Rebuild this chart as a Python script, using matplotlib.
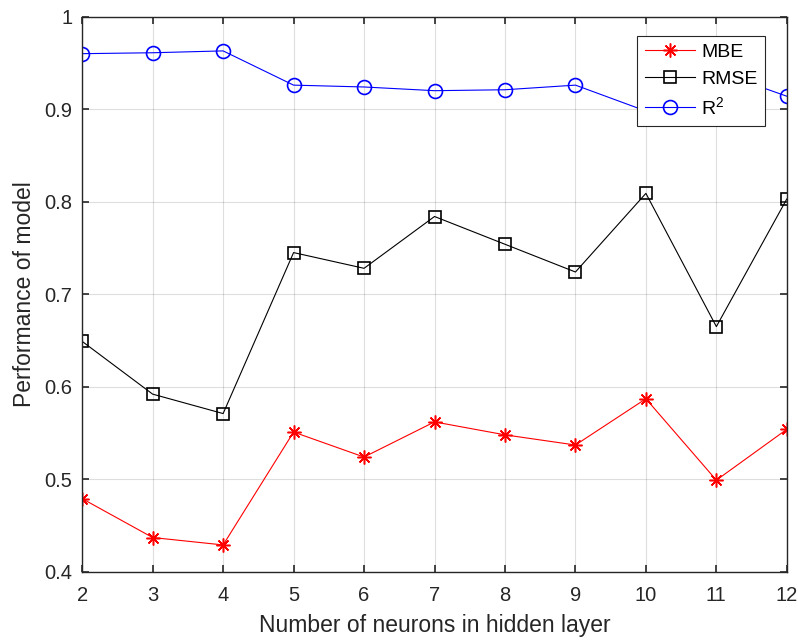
import numpy as np
import matplotlib.pyplot as plt

plt.rcParams['font.family'] = ['Liberation Sans', 'DejaVu Sans']
plt.rcParams['mathtext.fontset'] = 'custom'
plt.rcParams['mathtext.rm'] = 'Liberation Sans'

neurons = [2, 3, 4, 5, 6, 7, 8, 9, 10, 11, 12]
mbe = [0.479, 0.437, 0.429, 0.551, 0.524, 0.562, 0.548, 0.537, 0.587, 0.499, 0.554]
rmse = [0.649, 0.592, 0.571, 0.745, 0.728, 0.784, 0.754, 0.724, 0.809, 0.665, 0.803]
r2 = [0.960, 0.961, 0.963, 0.926, 0.924, 0.920, 0.921, 0.926, 0.898, 0.941, 0.914]

axcol = (0.15, 0.15, 0.15)

fig = plt.figure(figsize=(7.98, 6.41), dpi=100)
ax = fig.add_axes([0.103, 0.108, 0.883, 0.866])

# matlab style asterisk: 8 spokes
ax.plot(neurons, mbe, color='red', lw=0.8, marker=(8, 2, 0), ms=10, mew=1.1,
        label='MBE')
ax.plot(neurons, rmse, color='black', lw=0.8, marker='s', ms=8.5, mew=1.2,
        mfc='none', label='RMSE')
ax.plot(neurons, r2, color='blue', lw=0.8, marker='o', ms=10, mew=1.2,
        mfc='none', label=r'$\mathregular{R^2}$')

ax.set_xlim(2, 12)
ax.set_ylim(0.4, 1.0)
ax.set_xticks(neurons)
ax.set_yticks([0.4, 0.5, 0.6, 0.7, 0.8, 0.9, 1.0])
ax.set_yticklabels(['0.4', '0.5', '0.6', '0.7', '0.8', '0.9', '1'])

ax.grid(True, color=(0.15, 0.15, 0.15), alpha=0.15, lw=0.8)
ax.tick_params(direction='in', top=True, right=True, length=5, width=1.2,
               colors=axcol, labelsize=14.5)
ax.tick_params(axis='x', pad=10)
ax.tick_params(axis='y', pad=7)
for sp in ax.spines.values():
    sp.set_color(axcol)
    sp.set_linewidth(1.0)

ax.set_xlabel('Number of neurons in hidden layer', fontsize=16.5, color=axcol,
              labelpad=7)
ax.set_ylabel('Performance of model', fontsize=16.5, color=axcol, labelpad=6)

leg = ax.legend(loc='upper right', bbox_to_anchor=(0.983, 0.983), fontsize=14,
                fancybox=False, framealpha=1, edgecolor=axcol,
                handlelength=2.6, borderpad=0.4, labelspacing=0.45,
                handletextpad=0.3)
leg.get_frame().set_linewidth(0.8)

fig.savefig('out.png', dpi=100)
